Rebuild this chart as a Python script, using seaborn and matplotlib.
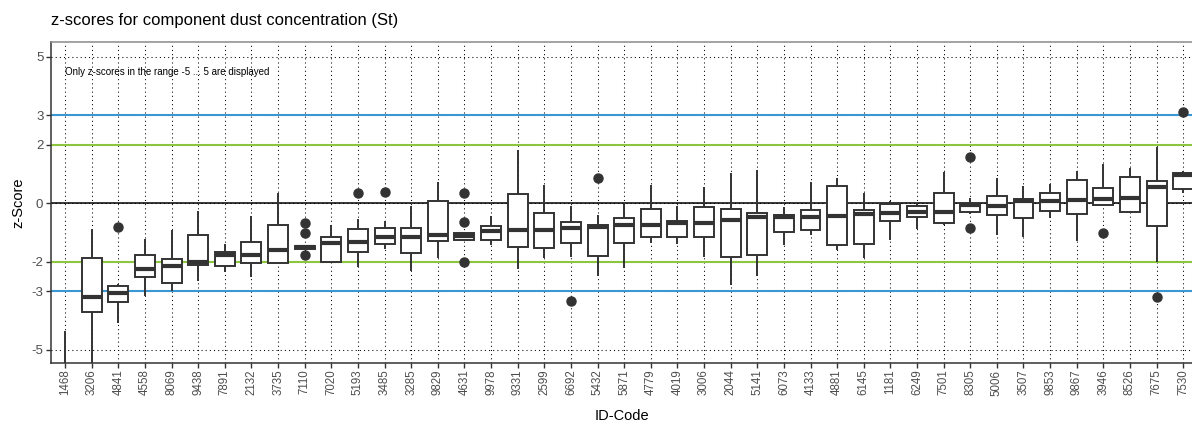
import numpy as np
import pandas as pd
import matplotlib
matplotlib.use("Agg")
import matplotlib.pyplot as plt
import seaborn as sns

# Lab codes in plotting order (sorted by median z-score)
ids = ["1468", "3206", "4841", "4558", "8069", "9438", "7891", "2132", "3735", "7110",
       "7020", "5193", "3485", "3285", "9829", "4631", "9978", "9331", "2599", "6692",
       "5432", "5871", "4779", "4019", "3006", "2044", "5141", "6073", "4133", "4881",
       "6145", "1181", "6249", "7501", "8305", "5006", "3507", "9853", "9867", "3946",
       "8526", "7675", "7530"]

# box statistics
whisk_lo = [-9.00, -6.00, -4.09, -3.18, -3.00, -2.65, -2.36, -2.53, -2.04, -1.56,
            -2.05, -2.18, -1.56, -2.33, -1.86, -1.24, -1.42, -2.25, -1.86, -1.85,
            -2.50, -2.21, -1.36, -1.40, -1.84, -2.78, -2.48, -1.42, -1.08, -1.61,
            -1.87, -1.25, -0.89, -0.74, -0.36, -1.08, -1.17, -0.51, -1.28, -0.10,
            -0.34, -2.00, 0.34]
q1 = [-8.00, -3.73, -3.37, -2.53, -2.73, -2.10, -2.16, -2.04, -2.04, -1.56,
      -2.00, -1.66, -1.40, -1.70, -1.29, -1.24, -1.26, -1.48, -1.52, -1.37,
      -1.79, -1.36, -1.16, -1.16, -1.14, -1.84, -1.78, -0.97, -0.91, -1.43,
      -1.41, -0.60, -0.47, -0.66, -0.30, -0.41, -0.50, -0.27, -0.37, -0.07,
      -0.31, -0.77, 0.50]
median = [-7.00, -3.21, -3.08, -2.25, -2.16, -2.00, -1.78, -1.76, -1.59, -1.50,
          -1.36, -1.31, -1.16, -1.16, -1.09, -1.11, -0.94, -0.91, -0.91, -0.85,
          -0.80, -0.74, -0.74, -0.68, -0.66, -0.57, -0.48, -0.48, -0.48, -0.45,
          -0.36, -0.34, -0.30, -0.30, -0.07, -0.08, 0.09, 0.09, 0.11, 0.15,
          0.19, 0.54, 0.95]
q3 = [-6.20, -1.86, -2.84, -1.78, -1.90, -1.09, -1.65, -1.34, -0.76, -1.45,
      -1.17, -0.87, -0.84, -0.83, 0.07, -1.03, -0.78, 0.31, -0.32, -0.65,
      -0.76, -0.51, -0.18, -0.62, -0.14, -0.20, -0.35, -0.40, -0.23, 0.59,
      -0.23, -0.02, -0.11, 0.36, -0.03, 0.25, 0.14, 0.35, 0.79, 0.52,
      0.91, 0.77, 1.02]
whisk_hi = [-4.35, -0.89, -2.75, -1.23, -0.91, -0.26, -1.39, -0.43, 0.36, -1.45,
            -0.76, -0.55, -0.59, -0.09, 0.73, -1.03, -0.43, 1.82, 0.62, -0.11,
            -0.40, -0.02, 0.62, -0.11, 0.57, 1.04, 1.14, -0.14, 0.72, 0.87,
            0.36, 0.06, 0.02, 1.08, 0.17, 0.85, 0.59, 0.66, 1.11, 1.34,
            1.20, 1.91, 1.11]
outliers = {
    "4841": [-0.81],
    "7110": [-0.69, -1.01, -1.78],
    "5193": [0.34],
    "3485": [0.37],
    "4631": [0.36, -0.64, -2.02],
    "6692": [-3.35],
    "5432": [0.87],
    "8305": [1.59, -0.84],
    "3946": [-1.03],
    "7675": [-3.20],
    "7530": [3.11],
}

# seaborn needs raw values: build 17 sorted values per lab so that
# the quartiles (index 4, 8, 12) and whisker ends match the stats above
rows = []
for i, lab in enumerate(ids):
    outs = outliers.get(lab, [])
    lo_out = sorted(v for v in outs if v < q1[i])
    hi_out = sorted(v for v in outs if v > q3[i])
    vals = list(lo_out) + [whisk_lo[i]]
    vals += [q1[i]] * (5 - len(vals))
    vals += [median[i]] * 4
    tail = [whisk_hi[i]] + hi_out
    vals += [q3[i]] * (17 - len(vals) - len(tail))
    vals += tail
    for v in vals:
        rows.append({"ID-Code": lab, "z": v})
df = pd.DataFrame(rows)

sns.set_theme(style="white")
plt.rcParams["font.family"] = ["Liberation Sans", "DejaVu Sans"]

fig = plt.figure(figsize=(11.92, 4.25), dpi=100)
ax = fig.add_axes([51 / 1192, 1 - 363.3 / 425, 1 - 51 / 1192, (363.3 - 42.3) / 425])

dark = "#333333"
ax.axhline(0, color="black", lw=1.1, zorder=1)
for yv in (2, -2):
    ax.axhline(yv, color="#8cc63f", lw=1.5, zorder=1)
for yv in (3, -3):
    ax.axhline(yv, color="#3a97d4", lw=1.5, zorder=1)

sns.boxplot(data=df, x="ID-Code", y="z", order=ids, ax=ax, color="white",
            linecolor=dark, linewidth=1.4, width=0.75, whis=1.5, fliersize=6.5,
            showcaps=False,
            medianprops={"linewidth": 3.0, "color": dark},
            flierprops={"marker": "o", "markerfacecolor": dark,
                        "markeredgecolor": dark})

ax.set_axisbelow(True)
ax.grid(True, axis="both", color="black", lw=0.75, linestyle=(0, (1, 3)))
ax.set_xlim(-0.53, 42.33)
ax.set_ylim(-5.47, 5.5)
ax.set_yticks([5, 3, 2, 0, -2, -3, -5])
ax.set_yticklabels(["5", "3", "2", "0", "-2", "-3", "-5"])

ax.tick_params(axis="y", left=True, length=3.5, width=1, color=dark,
               labelsize=9.5, labelcolor="#4d4d4d", pad=2)
ax.tick_params(axis="x", bottom=True, length=3.5, width=1, color=dark,
               labelsize=8.3, labelcolor="#4d4d4d", rotation=90, pad=1)

for side in ("left", "bottom"):
    ax.spines[side].set_color(dark)
    ax.spines[side].set_linewidth(1.1)
ax.spines["top"].set_color("#8a8a8a")
ax.spines["top"].set_linewidth(1.1)
ax.spines["right"].set_visible(False)

ax.set_xlabel("ID-Code", fontsize=10.5, color="black")
ax.set_ylabel("z-Score", fontsize=10.5, color="black")
ax.xaxis.set_label_coords(0.5, -0.1425)
ax.yaxis.set_label_coords(-0.0228, 0.5)

ax.text(0.0, 4.48, "Only z-scores in the range -5 ... 5 are displayed",
        fontsize=7, ha="left", va="center", color="black")

fig.text(51 / 1192, 1 - 20 / 425, "z-scores for component dust concentration (St)",
         fontsize=12, ha="left", va="center", color="black")

fig.savefig("out.png", dpi=100)
